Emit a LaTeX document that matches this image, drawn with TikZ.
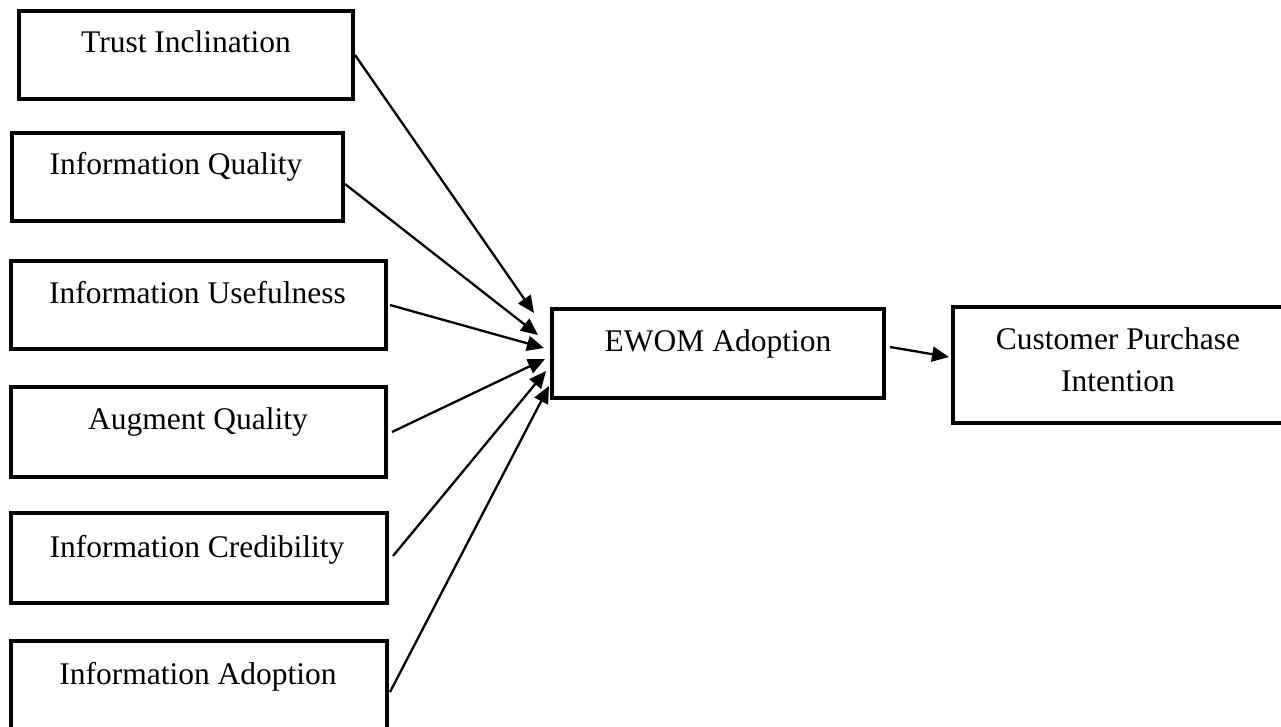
\documentclass[tikz,border=0pt]{standalone}
\usepackage{fontspec}
\setmainfont{Liberation Serif}
\usetikzlibrary{arrows.meta,calc}
\begin{document}
\begin{tikzpicture}[x=1pt,y=-1pt,
  box/.style={draw=black,line width=4pt,rectangle,inner sep=0pt,fill=none},
  lbl/.style={anchor=base,inner sep=0pt,font=\fontsize{31.5}{38}\selectfont},
  conn/.style={line width=2.3pt,-{Triangle[length=17pt,width=15pt]}}]
\useasboundingbox[fill=white] (0,0) rectangle (1281,727);
% boxes
\node[box,minimum width=334pt,minimum height=88pt] (ti) at (186,55) {};
\node[box,minimum width=331pt,minimum height=88pt] (iq) at (177.5,177) {};
\node[box,minimum width=375pt,minimum height=88pt] (iu) at (198.5,305) {};
\node[box,minimum width=375pt,minimum height=90pt] (aq) at (198.5,432) {};
\node[box,minimum width=376pt,minimum height=90pt] (ic) at (199,558) {};
\node[box,minimum width=376pt,minimum height=90pt] (ia) at (199,686) {};
\node[box,minimum width=332pt,minimum height=89pt] (ew) at (718,353.5) {};
\node[box,minimum width=330pt,minimum height=116pt] (cp) at (1118,365) {};
% labels
\node[lbl] (tit) at (186,53) {Trust Inclination};
\node[lbl] (iqt) at (176,175) {Information Quality};
\node[lbl] (iut) at (197.5,303) {Information Usefulness};
\node[lbl] (aqt) at (198,429) {Augment Quality};
\node[lbl] (ict) at (197,557) {Information Credibility};
\node[lbl] (iat) at (198,684) {Information Adoption};
\node[lbl] (ewt) at (718,351) {EWOM Adoption};
\node[lbl] (cpt1) at (1118,349) {Customer Purchase};
\node[lbl] (cpt2) at (1118,391) {Intention};
% arrow tips
\coordinate (e1) at (534,313);
\coordinate (e2) at (538,335);
\coordinate (e3) at (544,348);
\coordinate (e4) at (545,359);
\coordinate (e5) at (546,371);
\coordinate (e6) at (549,386);
\coordinate (s7) at (890,347);
\coordinate (e7) at (949,357);
% connectors
\draw[conn] (ti.east) -- (e1);
\draw[conn] ([yshift=-7pt]iq.east) -- (e2);
\draw[conn] ([xshift=2pt]iu.east) -- (e3);
\draw[conn] ([xshift=4pt]aq.east) -- (e4);
\draw[conn] ([xshift=4pt,yshift=2pt]ic.east) -- (e5);
\draw[conn] ([xshift=1pt,yshift=-6pt]ia.east) -- (e6);
\draw[conn] (s7) -- (e7);
\end{tikzpicture}
\end{document}
